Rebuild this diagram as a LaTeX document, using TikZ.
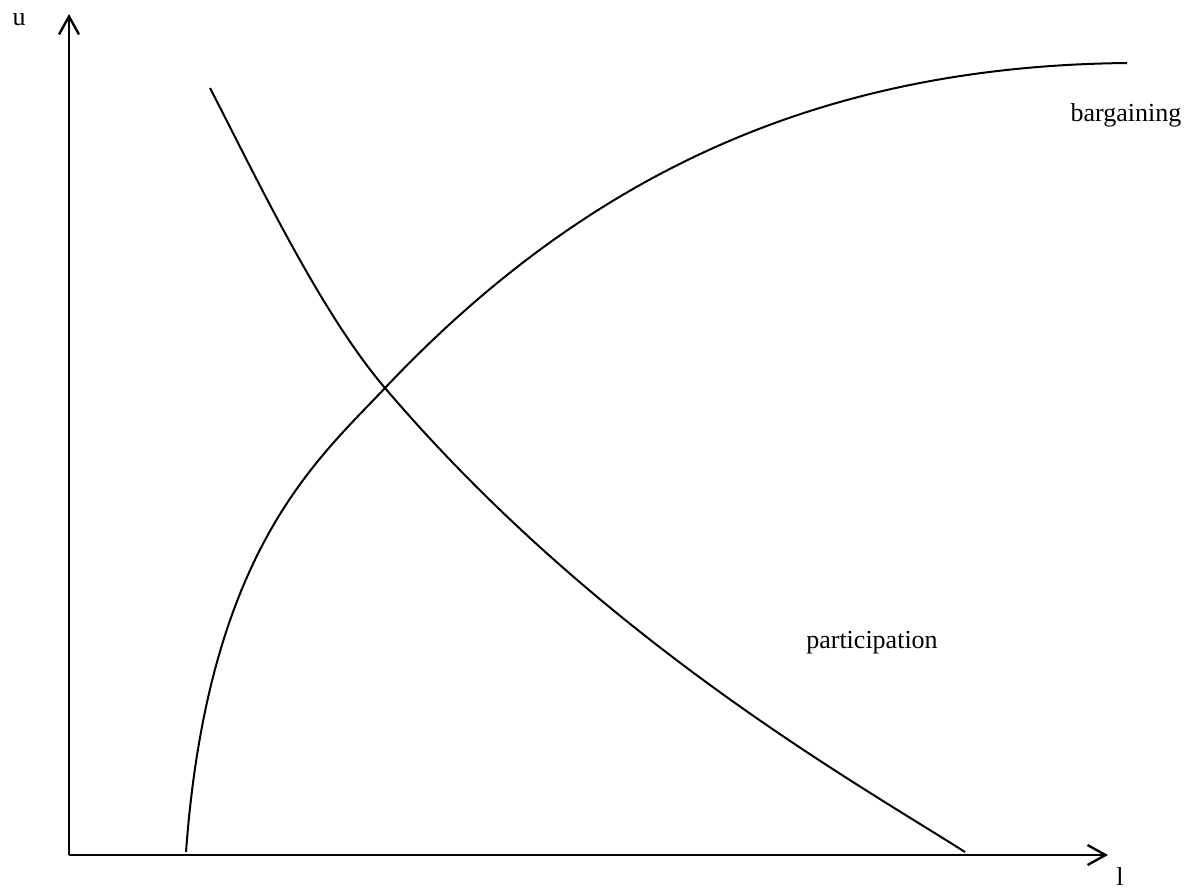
\documentclass[tikz,border=0pt]{standalone}
\usepackage{fontspec}
\setmainfont{Liberation Serif}
\usetikzlibrary{arrows.meta,positioning}

\begin{document}
\begin{tikzpicture}[
x=0.5pt, y=-0.5pt,
axis/.style={line width=1.2pt, -{Straight Barb[length=9pt,width=10pt,line width=1.2pt]}},
curve/.style={line width=1pt},
lbl/.style={inner sep=0pt, font=\fontsize{13}{15}\selectfont}
]
\useasboundingbox (0,0) rectangle (1188,890);

% axes
\coordinate (origin) at (69,855);
\coordinate (utip) at (69,14);
\coordinate (ltip) at (1108,855);
\draw[axis] (origin) -- (utip);
\draw[axis] (origin) -- (ltip);
\node[lbl] (ulabel) at (19,20) {u};
\node[lbl] (llabel) at (1120,876) {l};

% the two curves meet here
\coordinate (cross) at (385,388);

% bargaining curve
\coordinate (bstart) at (186,852);
\coordinate (bend) at (1127,63);
\draw[curve] (bstart) .. controls (208,552) and (316,461) .. (cross)
  .. controls (592,169) and (827,66) .. (bend);
\node[lbl] (bargaining) at (1126,115) {bargaining};

% participation curve
\coordinate (pstart) at (210,88);
\coordinate (pend) at (965,852);
\draw[curve] (pstart) .. controls (256,177) and (320,312) .. (cross)
  .. controls (599,639) and (855,782) .. (pend);
\node[lbl] (participation) at (872,643) {participation};
\end{tikzpicture}
\end{document}
